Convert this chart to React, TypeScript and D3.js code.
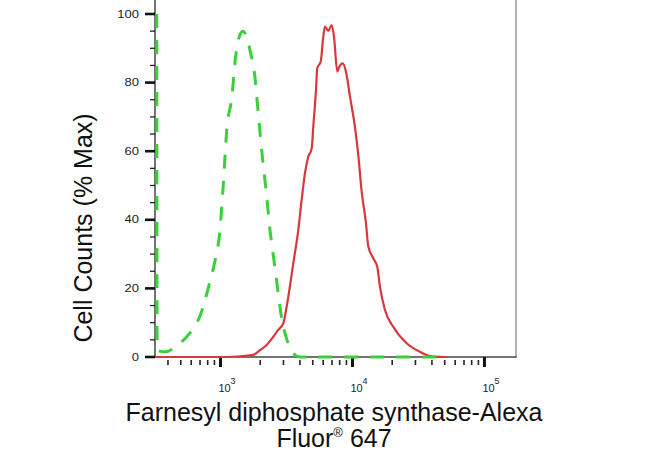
import React from "react";
import * as d3 from "d3";

const greenX = [329, 331, 380, 493, 557, 700, 832, 908, 991, 1045, 1120, 1222, 1288, 1406, 1479, 1589, 1671, 1824, 1923, 2061, 2213, 2372, 2588, 2924, 3190, 3540, 4000, 46000];
const greenY = [100, 2, 1.5, 4, 6, 12, 22, 28, 37, 49, 67, 76, 86, 94, 95, 93, 89.5, 81.6, 72, 59.5, 48.7, 37, 26, 10.8, 5, 1.2, 0, 0];

const redX = [319, 1050, 1480, 1763, 1991, 2239, 2512, 2740, 2991, 3174, 3561, 3885, 4121, 4365, 4624, 4909, 5047, 5291, 5410, 5744, 6010, 6194, 6556, 6954, 7244, 7674, 7943, 8433, 8925, 9575, 10440, 11100, 11700, 12650, 13180, 14380, 15410, 16150, 17630, 20370, 25740, 32460, 40940, 51740];
const redY = [0, 0, 0.3, 0.6, 2, 3.5, 5.9, 7.9, 9.8, 14.7, 27.3, 37, 45.8, 53.6, 58.4, 60.8, 67.1, 77.8, 84.2, 86.1, 93.4, 96.3, 95.1, 96.8, 93.4, 83.2, 84.6, 85.6, 83.2, 75.9, 67.1, 58.4, 48.7, 39.1, 32.2, 28.8, 26.3, 20.5, 13.7, 8.8, 4.0, 1.5, 0.1, 0];

const xDomain = [319, 173400];
const xMajorTicks = [1000, 10000, 100000];
const xMajorLabels = ["3", "4", "5"];
const yMajorTicks = [0, 20, 40, 60, 80, 100];
const yMinorTicks = [5, 10, 15, 25, 30, 35, 45, 50, 55, 65, 70, 75, 85, 90, 95];

const yLabel = "Cell Counts (% Max)";
const xLabelLine1 = "Farnesyl diphosphate synthase-Alexa";

export default function App() {
  const W = 650, H = 451;
  const left = 155, right = 516, top = 14, bottom = 357;
  const x = d3.scaleLog().domain(xDomain).range([left, right]);
  const y = d3.scaleLinear().domain([0, 100]).range([bottom, top]);

  const xMinor: number[] = [];
  [100, 1000, 10000, 100000].forEach((d) => {
    for (let k = 2; k <= 9; k++) {
      const v = d * k;
      if (v > xDomain[0] && v < xDomain[1]) xMinor.push(v);
    }
  });

  const line = d3
    .line<[number, number]>()
    .x((d) => x(d[0]))
    .y((d) => y(d[1]))
    .curve(d3.curveMonotoneX);

  const greenData = greenX.map((v, i) => [v, greenY[i]] as [number, number]);
  const redData = redX.map((v, i) => [v, redY[i]] as [number, number]);

  const font = "'Liberation Sans', Arial, sans-serif";

  return (
    <svg
      width={W}
      height={H}
      style={{ position: "absolute", left: 0, top: 0, background: "#fff" }}
      fontFamily={font}
    >
      <rect x={0} y={0} width={W} height={H} fill="#fff" />
      {/* frame */}
      <line x1={right} x2={right} y1={0} y2={bottom} stroke="#9a9a9a" strokeWidth={1.5} />
      <line x1={left} x2={left} y1={0} y2={bottom + 1} stroke="#444" strokeWidth={1.5} />
      <line x1={left} x2={right + 0.75} y1={bottom} y2={bottom} stroke="#444" strokeWidth={1.5} />

      {/* y ticks */}
      {yMajorTicks.map((t) => (
        <g key={"ym" + t}>
          <line x1={left - 10} x2={left} y1={y(t)} y2={y(t)} stroke="#111" strokeWidth={2.6} />
          <text
            x={0}
            y={0}
            transform={`translate(${left - 16},${y(t) + 3.5}) scale(1.3,1)`}
            textAnchor="end"
            fontSize={10}
            fill="#222"
          >
            {t}
          </text>
        </g>
      ))}
      {yMinorTicks.map((t) => (
        <line key={"yn" + t} x1={left - 5} x2={left} y1={y(t)} y2={y(t)} stroke="#222" strokeWidth={1.3} />
      ))}

      {/* x ticks */}
      {xMinor.map((t) => (
        <line key={"xn" + t} x1={x(t)} x2={x(t)} y1={bottom + 3} y2={bottom + 8} stroke="#222" strokeWidth={1.6} />
      ))}
      {xMajorTicks.map((t, i) => (
        <g key={"xm" + t}>
          <line x1={x(t)} x2={x(t)} y1={bottom} y2={bottom + 10} stroke="#111" strokeWidth={3} />
          <text x={x(t) - 2} y={bottom + 35} fontSize={11} fill="#222">
            10
          </text>
          <text x={x(t) + 10} y={bottom + 27} fontSize={9} fill="#222">
            {xMajorLabels[i]}
          </text>
        </g>
      ))}

      {/* curves */}
      <path d={line(redData) || ""} fill="none" stroke="#d8383c" strokeWidth={2.2} />
      <path
        d={line(greenData) || ""}
        fill="none"
        stroke="#3ccf3c"
        strokeWidth={3}
        strokeDasharray="14 12"
      />

      {/* axis labels */}
      <text
        transform={`translate(92,228) rotate(-90)`}
        textAnchor="middle"
        fontSize={25}
        fill="#111"
      >
        {yLabel}
      </text>
      <text x={334} y={421} textAnchor="middle" fontSize={25} fill="#111">
        {xLabelLine1}
      </text>
      <text x={334} y={447} textAnchor="middle" fontSize={25} fill="#111">
        Fluor
        <tspan fontSize={13} dy={-10}>®</tspan>
        <tspan dy={10}> 647</tspan>
      </text>
    </svg>
  );
}
